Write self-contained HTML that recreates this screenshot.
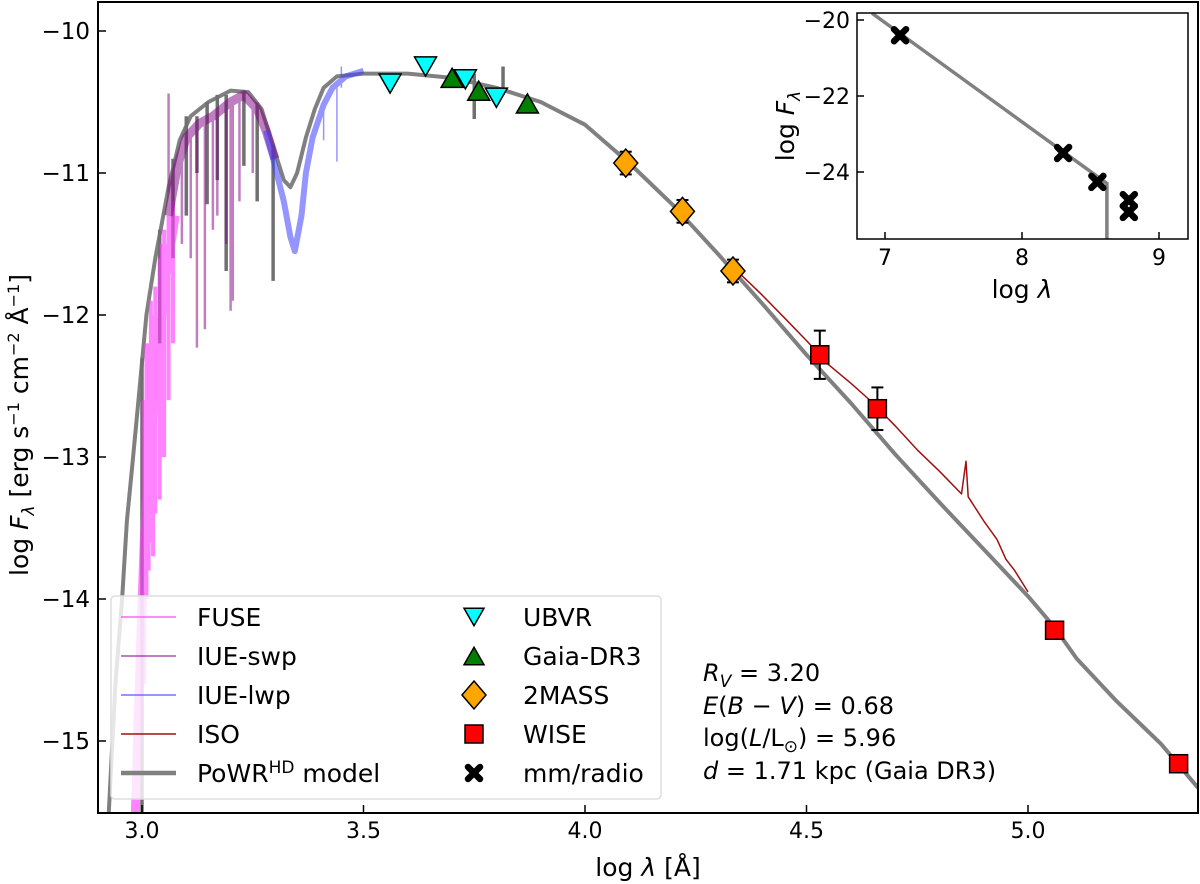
<!DOCTYPE html>
<html><head><meta charset="utf-8"><style>
html,body{margin:0;padding:0;background:#fff;}
svg{display:block;font-family:"DejaVu Sans","Liberation Sans",sans-serif;}
</style></head><body>
<svg id="chart" width="1200" height="884" viewBox="0 0 1200 884" xmlns="http://www.w3.org/2000/svg">
<defs>
<clipPath id="clipMain"><rect x="98" y="2" width="1100" height="811"/></clipPath>
<clipPath id="clipIn"><rect x="857" y="13" width="331" height="226"/></clipPath>
</defs>
<rect x="0" y="0" width="1200" height="884" fill="#fff"/>
<g id="main-plot" clip-path="url(#clipMain)"></g>
<g id="main-axes"></g>
<g id="legend"></g>
<g id="annot" font-size="24" fill="#000">
<text x="703" y="681"><tspan font-style="italic">R</tspan><tspan font-style="italic" font-size="17" dy="6">V</tspan><tspan dy="-6"> = 3.20</tspan></text>
<text x="703" y="714"><tspan font-style="italic">E</tspan>(<tspan font-style="italic">B</tspan> − <tspan font-style="italic">V</tspan>) = 0.68</text>
<text x="703" y="746">log(<tspan font-style="italic">L</tspan>/L<tspan font-size="17" dy="6">⊙</tspan><tspan dy="-6">) = 5.96</tspan></text>
<text x="703" y="779"><tspan font-style="italic">d</tspan> = 1.71 kpc (Gaia DR3)</text>
</g>
<g id="inset"></g>
</svg>
<script>
// ---- data ----
const modelX = [2.925,2.94,2.955,2.966,2.98,2.995,3.01,3.03,3.06,3.085,3.11,3.15,3.2,3.24,3.27,3.3,3.32,3.335,3.35,3.37,3.39,3.41,3.44,3.5,3.6,3.7,3.8,3.9,4.0,4.1,4.2,4.3,4.4,4.5,4.6,4.7,4.8,4.9,5.0,5.06,5.11,5.2,5.3,5.384];
const modelY = [-15.5,-14.6,-14.0,-13.45,-13.0,-12.5,-12.0,-11.6,-11.1,-10.77,-10.6,-10.5,-10.42,-10.43,-10.55,-10.85,-11.05,-11.1,-11.0,-10.75,-10.55,-10.4,-10.32,-10.3,-10.3,-10.33,-10.4,-10.5,-10.66,-10.93,-11.23,-11.57,-11.92,-12.28,-12.62,-12.98,-13.32,-13.65,-13.98,-14.2,-14.42,-14.72,-15.02,-15.33];
const modelSpikes = [[3.0,-12.3,-15.6],[3.04,-11.4,-12.2],[3.07,-10.9,-11.6],[3.1,-10.6,-11.3],[3.124,-10.6,-11.0],[3.147,-10.5,-11.22],[3.17,-10.45,-11.05],[3.19,-10.45,-11.69],[3.23,-10.42,-10.95],[3.26,-10.5,-11.2],[3.296,-10.8,-11.76],[3.75,-10.3,-10.62],[3.815,-10.25,-10.45]];
const fuseX = [2.985,2.995,3.005,3.015,3.025,3.035,3.045,3.055,3.065,3.075];
const fuseY = [-15.5,-14.5,-13.6,-13.0,-12.7,-12.3,-12.0,-11.7,-11.5,-11.3];
const fuseSpikes = [[3.005,-12.6,-14.6],[3.01,-12.2,-14.0],[3.015,-12.2,-13.8],[3.02,-11.9,-13.6],[3.025,-12.0,-13.7],[3.03,-11.8,-13.4],[3.04,-11.6,-13.3],[3.045,-11.5,-13.0],[3.05,-11.4,-13.0],[3.06,-11.3,-12.6],[3.07,-11.2,-12.2]];
const swpX = [3.06,3.08,3.1,3.13,3.16,3.2,3.23,3.26,3.28,3.3];
const swpY = [-11.3,-10.95,-10.75,-10.65,-10.6,-10.5,-10.45,-10.55,-10.7,-10.9];
const swpSpikes = [[3.06,-10.44,-11.3],[3.09,-10.8,-11.5],[3.11,-10.7,-11.6],[3.124,-10.7,-12.23],[3.142,-10.6,-12.1],[3.16,-10.6,-11.4],[3.19,-10.5,-11.5],[3.2,-10.5,-11.97],[3.205,-10.5,-11.9],[3.17,-10.55,-11.3],[3.22,-10.45,-11.2],[3.25,-10.5,-11.0]];
const lwpX = [3.28,3.3,3.32,3.335,3.345,3.36,3.37,3.385,3.41,3.43,3.46,3.5];
const lwpY = [-10.7,-10.95,-11.2,-11.45,-11.55,-11.3,-11.0,-10.75,-10.52,-10.4,-10.32,-10.28];
const lwpSpikes = [[3.41,-10.5,-10.77],[3.44,-10.35,-10.92],[3.45,-10.25,-10.4]];
const isoX = [4.34,4.4,4.45,4.5,4.55,4.6,4.65,4.7,4.75,4.8,4.85,4.86,4.865,4.9,4.93,4.95,4.97,5.0];
const isoY = [-11.68,-11.86,-12.02,-12.18,-12.35,-12.48,-12.62,-12.78,-12.95,-13.1,-13.26,-13.03,-13.28,-13.45,-13.58,-13.72,-13.8,-13.95];
const ubvrX = [3.56,3.64,3.73,3.80];
const ubvrY = [-10.37,-10.25,-10.34,-10.47];
const gaiaX = [3.70,3.76,3.87];
const gaiaY = [-10.33,-10.42,-10.51];
const tmassX = [4.092,4.22,4.334];
const tmassY = [-10.93,-11.27,-11.69];
const tmassErr = [0.08,0.08,0.08];
const wiseX = [4.53,4.66,5.06,5.34];
const wiseY = [-12.28,-12.66,-14.22,-15.16];
const wiseErr = [0.17,0.15,0,0];
const xTicks = [3.0,3.5,4.0,4.5,5.0];
const xTickLabels = ["3.0","3.5","4.0","4.5","5.0"];
const yTicks = [-10,-11,-12,-13,-14,-15];
const yTickLabels = ["−10","−11","−12","−13","−14","−15"];
const radioX = [7.11,8.30,8.55,8.78,8.78];
const radioY = [-20.4,-23.5,-24.26,-24.74,-25.05];
const insetModelX = [6.905,8.62,8.62];
const insetModelY = [-19.82,-24.3,-26.0];
const ixTicks = [7,8,9];
const ixTickLabels = ["7","8","9"];
const iyTicks = [-20,-22,-24];
const iyTickLabels = ["−20","−22","−24"];

// ---- scales ----
const NS="http://www.w3.org/2000/svg";
function X(v){return 142+(v-3)*443;}
function Y(v){return 31+(-10-v)*142;}
function IX(v){return 885+(v-7)*137;}
function IY(v){return 20+(-20-v)*38;}
function mk(tag,attrs,parent){const e=document.createElementNS(NS,tag);for(const k in attrs)e.setAttribute(k,attrs[k]);parent.appendChild(e);return e;}
function pts(xs,ys,fx,fy){return xs.map((x,i)=>fx(x).toFixed(1)+","+fy(ys[i]).toFixed(1)).join(" ");}

const plot=document.getElementById('main-plot');
const axes=document.getElementById('main-axes');
const leg=document.getElementById('legend');
const inset=document.getElementById('inset');

// model
let el=mk('polyline',{points:pts(modelX,modelY,X,Y),fill:'none',stroke:'#808080','stroke-width':4,'stroke-linejoin':'round'},plot);


modelSpikes.forEach(s=>{const l=mk('line',{x1:X(s[0]),x2:X(s[0]),y1:Y(s[1]),y2:Y(s[2]),stroke:'#707070','stroke-width':3.5},plot);

});

function spectrum(xs,ys,sp,color,op,w,name,sw){
  const g=mk('g',{opacity:op},plot);
  
  
  mk('polyline',{points:pts(xs,ys,X,Y),fill:'none',stroke:color,'stroke-width':w,'stroke-linejoin':'round'},g);
  sp.forEach(s=>mk('line',{x1:X(s[0]),x2:X(s[0]),y1:Y(s[1]),y2:Y(s[2]),stroke:color,'stroke-width':sw},g));
}
spectrum(fuseX,fuseY,fuseSpikes,'#ff40ff',0.65,9,'fuse-spectrum',4);
spectrum(swpX,swpY,swpSpikes,'#800080',0.5,9,'iue-swp-spectrum',2.5);
spectrum(lwpX,lwpY,lwpSpikes,'#4040ff',0.55,6,'iue-lwp-spectrum',1.5);
spectrum(isoX,isoY,[],'#a01010',1,1.5,'iso-spectrum',1);

// markers
function tri(cx,cy,down,fill,parent,s){const h=s*0.87;const p=down?[[cx-s/2,cy-h/2],[cx+s/2,cy-h/2],[cx,cy+h/2]]:[[cx-s/2,cy+h/2],[cx+s/2,cy+h/2],[cx,cy-h/2]];
 return mk('polygon',{points:p.map(q=>q.join(',')).join(' '),fill:fill,stroke:'#000','stroke-width':1.5},parent);}
function diamond(cx,cy,fill,parent){return mk('polygon',{points:`${cx},${cy-14} ${cx+12},${cy} ${cx},${cy+14} ${cx-12},${cy}`,fill:fill,stroke:'#000','stroke-width':1.5},parent);}
function square(cx,cy,fill,parent){return mk('rect',{x:cx-9,y:cy-9,width:18,height:18,fill:fill,stroke:'#000','stroke-width':1.5},parent);}
function xmark(cx,cy,parent){return mk('path',{d:`M${cx-6},${cy-6}L${cx+6},${cy+6}M${cx+6},${cy-6}L${cx-6},${cy+6}`,stroke:'#000','stroke-width':6.5,'stroke-linecap':'round'},parent);}
function errbar(cx,cy,e,parent,fx,fy,v){const a=Y(v+e),b=Y(v-e);
 mk('line',{x1:cx,x2:cx,y1:a,y2:b,stroke:'#000','stroke-width':2},parent);
 mk('line',{x1:cx-6,x2:cx+6,y1:a,y2:a,stroke:'#000','stroke-width':2},parent);
 mk('line',{x1:cx-6,x2:cx+6,y1:b,y2:b,stroke:'#000','stroke-width':2},parent);}

ubvrX.forEach((x,i)=>{const m=tri(X(x),Y(ubvrY[i]),true,'#00ffff',plot,22);

});
gaiaX.forEach((x,i)=>{const m=tri(X(x),Y(gaiaY[i]),false,'#008000',plot,22);

});
tmassX.forEach((x,i)=>{errbar(X(x),Y(tmassY[i]),tmassErr[i],plot,X,Y,tmassY[i]);
const m=diamond(X(x),Y(tmassY[i]),'#ffa500',plot);

});
wiseX.forEach((x,i)=>{if(wiseErr[i]>0)errbar(X(x),Y(wiseY[i]),wiseErr[i],plot,X,Y,wiseY[i]);
const m=square(X(x),Y(wiseY[i]),'#ff0000',plot);

});

// axes
mk('rect',{x:98,y:2,width:1100,height:811,fill:'none',stroke:'#000','stroke-width':2},axes);
xTicks.forEach((t,i)=>{const x=X(t);mk('line',{x1:x,x2:x,y1:813,y2:805,stroke:'#000','stroke-width':1.5},axes);
const tl=mk('text',{x:x,y:838,'text-anchor':'middle','font-size':22},axes);tl.textContent=xTickLabels[i];

});
yTicks.forEach((t,i)=>{const y=Y(t);mk('line',{x1:98,x2:106,y1:y,y2:y,stroke:'#000','stroke-width':1.5},axes);
const tl=mk('text',{x:90,y:y+8,'text-anchor':'end','font-size':23},axes);tl.textContent=yTickLabels[i];

});
let xl=mk('text',{x:648,y:876,'text-anchor':'middle','font-size':25},axes);
xl.innerHTML='log <tspan font-style="italic">λ</tspan> [Å]';


let yl=mk('text',{x:0,y:0,'text-anchor':'middle','font-size':25,transform:'translate(28,425) rotate(-90)'},axes);
yl.innerHTML='log <tspan font-style="italic">F</tspan><tspan font-style="italic" font-size="17" dy="6">λ</tspan><tspan dy="-6"> [erg s</tspan><tspan font-size="16" dy="-9">−1</tspan><tspan dy="9"> cm</tspan><tspan font-size="16" dy="-9">−2</tspan><tspan dy="9"> Å</tspan><tspan font-size="16" dy="-9">−1</tspan><tspan dy="9">]</tspan>';



// legend
mk('rect',{x:111,y:596,width:550,height:203,rx:4,fill:'#fff','fill-opacity':0.8,stroke:'#dddddd','stroke-width':1.5},leg);
const legLeft=[['FUSE','#ff40ff',0.6,2],['IUE-swp','#800080',0.5,2],['IUE-lwp','#4040ff',0.55,2],['ISO','#a01010',1,1.5],['model','#808080',1,4.5]];
const rows=[617,656,695,734,773];
legLeft.forEach((e,i)=>{const g=mk('g',{},leg);


mk('line',{x1:121,x2:176,y1:rows[i],y2:rows[i],stroke:e[1],'stroke-width':e[3],opacity:e[2]},g);
const t=mk('text',{x:197,y:rows[i]+9,'font-size':25},g);
if(e[0]==='model'){t.innerHTML='PoWR<tspan font-size="17" dy="-9">HD</tspan><tspan dy="9"> model</tspan>';}else t.textContent=e[0];});
const rightNames=['UBVR','Gaia-DR3','2MASS','WISE','mm/radio'];
rightNames.forEach((n,i)=>{const g=mk('g',{},leg);


const cx=474,cy=rows[i];
if(i===0)tri(cx,cy,true,'#00ffff',g,20);else if(i===1)tri(cx,cy,false,'#008000',g,20);
else if(i===2)diamond(cx,cy,'#ffa500',g);else if(i===3)square(cx,cy,'#ff0000',g);else xmark(cx,cy,g);
const t=mk('text',{x:523,y:cy+9,'font-size':25},g);t.textContent=n;});

// inset
mk('rect',{x:857,y:13,width:331,height:226,fill:'#fff'},inset);
const ig=mk('g',{'clip-path':'url(#clipIn)'},inset);
let il=mk('polyline',{points:pts(insetModelX,insetModelY,IX,IY),fill:'none',stroke:'#808080','stroke-width':3.5},ig);


radioX.forEach((x,i)=>{const m=xmark(IX(x),IY(radioY[i]),ig);

});
mk('rect',{x:857,y:13,width:331,height:226,fill:'none',stroke:'#000','stroke-width':1.5},inset);
ixTicks.forEach((t,i)=>{const x=IX(t);mk('line',{x1:x,x2:x,y1:239,y2:232,stroke:'#000','stroke-width':1.5},inset);
const tl=mk('text',{x:x,y:265,'text-anchor':'middle','font-size':22},inset);tl.textContent=ixTickLabels[i];

});
iyTicks.forEach((t,i)=>{const y=IY(t);mk('line',{x1:857,x2:864,y1:y,y2:y,stroke:'#000','stroke-width':1.5},inset);
const tl=mk('text',{x:850,y:y+8,'text-anchor':'end','font-size':22},inset);tl.textContent=iyTickLabels[i];

});
let ixl=mk('text',{x:1022,y:298,'text-anchor':'middle','font-size':25},inset);
ixl.innerHTML='log <tspan font-style="italic">λ</tspan>';


let iyl=mk('text',{x:0,y:0,'text-anchor':'middle','font-size':25,transform:'translate(794,126) rotate(-90)'},inset);
iyl.innerHTML='log <tspan font-style="italic">F</tspan><tspan font-style="italic" font-size="17" dy="6">λ</tspan>';


</script>
</body></html>
